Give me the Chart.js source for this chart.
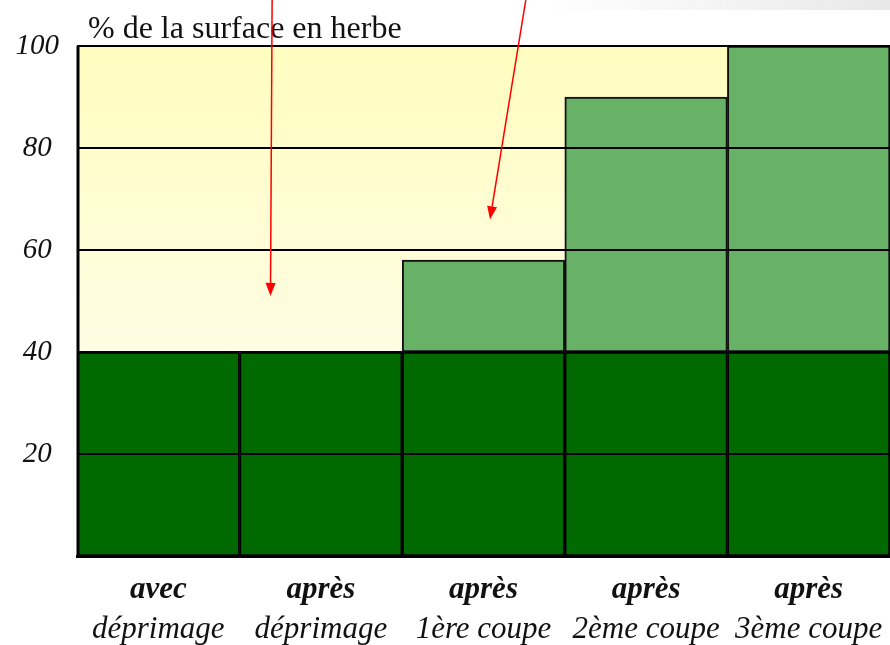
<!DOCTYPE html>
<html>
<head>
<meta charset="utf-8">
<script src="https://cdn.jsdelivr.net/npm/chart.js@4"></script>
<style>
  html, body { margin: 0; padding: 0; background: #fff; }
  #wrap { width: 890px; height: 645px; }
</style>
</head>
<body>
<div id="wrap"><canvas id="chart"></canvas></div>
<script>
// categories, two lines each (first line bold)
var labelsTop = ['avec', 'après', 'après', 'après', 'après'];
var labelsBottom = ['déprimage', 'déprimage', '1ère coupe', '2ème coupe', '3ème coupe'];
// stacked values (% of area)
var baseValues = [40, 40, 40, 40, 40];
var extraValues = [0, 0, 18, 50, 60];
var yTicks = [20, 40, 60, 80, 100];
var titleText = '% de la surface en herbe';
// arrows: [start category, start value, end category, end value]
var arrows = [
    [0.70, 109, 0.69, 51],
    [2.26, 109, 2.04, 66]
];

var serif = "'Liberation Serif', 'Times New Roman', serif";

var decor = {
    id: 'decor',
    beforeDraw: function(chart) {
        var ctx = chart.ctx, a = chart.chartArea;
        ctx.save();
        // faint grey band top right
        var gb = ctx.createLinearGradient(540, 0, chart.width, 0);
        gb.addColorStop(0, 'rgba(235,235,235,0)');
        gb.addColorStop(1, 'rgba(232,232,232,1)');
        ctx.fillStyle = gb;
        ctx.fillRect(540, 0, chart.width - 540, 10);
        // plot background
        var g = ctx.createLinearGradient(0, a.top, 0, a.bottom);
        g.addColorStop(0, '#fffdbf');
        g.addColorStop(0.6, '#fffce4');
        g.addColorStop(1, '#fffcef');
        ctx.fillStyle = g;
        ctx.fillRect(a.left, a.top, a.right - a.left, a.bottom - a.top);
        ctx.restore();
    },
    afterDraw: function(chart) {
        var ctx = chart.ctx, a = chart.chartArea;
        var x = chart.scales.x, y = chart.scales.y;
        ctx.save();
        // left axis line
        ctx.strokeStyle = '#000';
        ctx.lineWidth = 3;
        ctx.beginPath();
        ctx.moveTo(a.left + 1, a.top);
        ctx.lineTo(a.left + 1, a.bottom);
        ctx.stroke();
        // title
        ctx.fillStyle = '#111';
        ctx.font = "32px " + serif;
        ctx.textAlign = 'left';
        ctx.textBaseline = 'alphabetic';
        ctx.fillText(titleText, a.left + 11, 38);
        // x labels
        ctx.textAlign = 'center';
        ctx.textBaseline = 'middle';
        for (var i = 0; i < labelsTop.length; i++) {
            var px = x.getPixelForValue(i);
            ctx.font = "italic bold 31px " + serif;
            ctx.fillText(labelsTop[i], px, 590);
            ctx.font = "italic 31px " + serif;
            ctx.fillText(labelsBottom[i], px, 630);
        }
        // red arrows
        ctx.strokeStyle = '#ff0000';
        ctx.fillStyle = '#ff0000';
        ctx.lineWidth = 1.5;
        arrows.forEach(function(ar) {
            var x1 = x.getPixelForValue(ar[0]), y1 = y.getPixelForValue(ar[1]);
            var x2 = x.getPixelForValue(ar[2]), y2 = y.getPixelForValue(ar[3]);
            var ang = Math.atan2(y2 - y1, x2 - x1);
            var len = 13, w = 5;
            var bx = x2 - len * Math.cos(ang), by = y2 - len * Math.sin(ang);
            ctx.beginPath();
            ctx.moveTo(x1, y1);
            ctx.lineTo(bx, by);
            ctx.stroke();
            ctx.beginPath();
            ctx.moveTo(x2, y2);
            ctx.lineTo(bx + w * Math.sin(ang), by - w * Math.cos(ang));
            ctx.lineTo(bx - w * Math.sin(ang), by + w * Math.cos(ang));
            ctx.closePath();
            ctx.fill();
        });
        ctx.restore();
    }
};

new Chart(document.getElementById('chart'), {
    type: 'bar',
    data: {
        labels: labelsBottom,
        datasets: [{
            data: baseValues,
            backgroundColor: '#006a00',
            borderColor: '#000',
            borderWidth: 2,
            borderSkipped: false,
            barPercentage: 1,
            categoryPercentage: 1
        }, {
            data: extraValues,
            backgroundColor: '#68b268',
            borderColor: '#111',
            borderWidth: 2,
            borderSkipped: false,
            barPercentage: 1,
            categoryPercentage: 1
        }]
    },
    options: {
        responsive: true,
        maintainAspectRatio: false,
        animation: false,
        layout: { padding: { top: 46, right: 0, bottom: 89, left: 0 } },
        plugins: {
            legend: { display: false },
            tooltip: { enabled: false }
        },
        scales: {
            x: {
                stacked: true,
                afterFit: function(scale) { scale.height = 0; },
                ticks: { display: false },
                grid: { display: false },
                border: { color: '#000', width: 3 }
            },
            y: {
                stacked: true,
                min: 0,
                max: 100,
                afterBuildTicks: function(scale) {
                    scale.ticks = yTicks.map(function(v) { return { value: v }; });
                },
                afterFit: function(scale) { scale.width = 77; },
                ticks: {
                    color: '#111',
                    font: { family: serif, style: 'italic', size: 29 },
                    crossAlign: 'center',
                    padding: 18
                },
                grid: {
                    color: '#000',
                    lineWidth: 2,
                    drawTicks: false,
                    z: 1
                },
                border: { display: false }
            }
        }
    },
    plugins: [decor]
});
</script>
</body>
</html>
